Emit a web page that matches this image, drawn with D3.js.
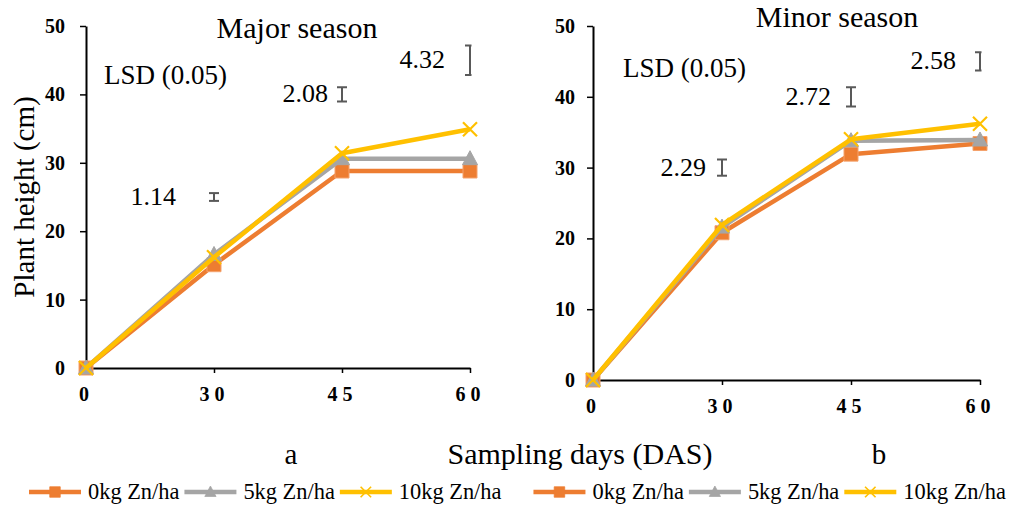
<!DOCTYPE html>
<html>
<head>
<meta charset="utf-8">
<script src="https://cdn.jsdelivr.net/npm/d3@7"></script>
<style>
  html, body { margin: 0; padding: 0; background: #fff; }
  svg { display: block; }
  text { font-family: "Liberation Serif", "Times New Roman", serif; }
</style>
</head>
<body>
<svg id="chart" width="1020" height="507"></svg>
<script>
// Sampling days (categories on the x axis)
const days = ["0", "30", "45", "60"];
const yTicks = [0, 10, 20, 30, 40, 50];

// Plant height (cm) – major season
const majorZn0 = [0, 15.1, 28.8, 28.8];
const majorZn5 = [0, 16.6, 30.6, 30.6];
const majorZn10 = [0, 16.2, 31.4, 34.9];

// Plant height (cm) – minor season
const minorZn0 = [0, 20.8, 31.9, 33.4];
const minorZn5 = [0, 21.6, 33.8, 33.9];
const minorZn10 = [0, 21.9, 34.0, 36.2];

// LSD (0.05) bars: the sampling day, the value they are centred on, and their length
const lsdDays = ["30", "45", "60"];
const majorLsd = [1.14, 2.08, 4.32];
const majorLsdAt = [25, 40, 45];
const minorLsd = [2.29, 2.72, 2.58];
const minorLsdAt = [30, 40, 45];

const seriesNames = ["0kg Zn/ha", "5kg Zn/ha", "10kg Zn/ha"];
const colors = ["#ED7D31", "#A5A5A5", "#FFC000"];
const symbols = ["square", "triangle", "cross"];

const svg = d3.select("#chart");

const panels = [
  {
    left: 86, top: 26, width: 384, height: 342,
    title: "Major season", titleX: 211, titleY: 12,
    lsdTextX: 18, lsdTextY: 58,
    labelGap: [38, 14, 25], tickPad: 15,
    series: [majorZn0, majorZn5, majorZn10],
    lsd: majorLsd, lsdAt: majorLsdAt,
    letter: "a", letterX: 205
  },
  {
    left: 593, top: 26, width: 387, height: 354,
    title: "Minor season", titleX: 244, titleY: 1,
    lsdTextX: 30, lsdTextY: 51,
    labelGap: [16, 20, 24], tickPad: 12,
    series: [minorZn0, minorZn5, minorZn10],
    lsd: minorLsd, lsdAt: minorLsdAt,
    letter: "b", letterX: 286
  }
];

function markerPath(kind) {
  if (kind === "square") return "M-7,-7H7V7H-7Z";
  if (kind === "triangle") return "M0,-8L7.5,6H-7.5Z";
  return "M-7,-7L7,7M-7,7L7,-7";
}

panels.forEach((p, pi) => {
  const g = svg.append("g").attr("transform", `translate(${p.left},${p.top})`);
  const x = d3.scalePoint().domain(days).range([0, p.width]);
  const y = d3.scaleLinear().domain([0, 50]).range([p.height, 0]);

  // y axis
  const yAxis = g.append("g")
    .call(d3.axisLeft(y).tickValues(yTicks).tickSize(6).tickSizeOuter(0).tickPadding(p.tickPad));
  yAxis.select(".domain").attr("stroke", "#000").attr("stroke-width", 2);
  yAxis.selectAll(".tick line").attr("stroke", "#000").attr("stroke-width", 1.5);
  yAxis.selectAll(".tick text")
    .attr("font-weight", "bold").attr("font-size", 20).attr("fill", "#000");

  // x axis
  const xAxis = g.append("g").attr("transform", `translate(0,${p.height})`)
    .call(d3.axisBottom(x).tickSize(5).tickSizeOuter(0).tickPadding(14));
  xAxis.select(".domain").attr("stroke", "#000").attr("stroke-width", 2);
  xAxis.selectAll(".tick line").attr("stroke", "#000").attr("stroke-width", 1.5);
  xAxis.selectAll(".tick text")
    .attr("font-weight", "bold").attr("font-size", 20).attr("fill", "#000")
    .attr("letter-spacing", "5px");

  // chart title
  g.append("text").attr("x", p.titleX).attr("y", p.titleY)
    .attr("text-anchor", "middle").attr("font-size", 30).attr("fill", "#000")
    .text(p.title);

  // LSD caption
  g.append("text").attr("x", p.lsdTextX).attr("y", p.lsdTextY)
    .attr("font-size", 27).attr("fill", "#000")
    .text("LSD (0.05)");

  // LSD bars, clipped to the plot area
  const clipId = "clip" + pi;
  g.append("clipPath").attr("id", clipId)
    .append("rect").attr("x", -2).attr("y", -30).attr("width", p.width + 3.5).attr("height", p.height + 40);
  const bars = g.append("g").attr("clip-path", `url(#${clipId})`);
  p.lsd.forEach((v, i) => {
    const cx = x(lsdDays[i]);
    const y1 = y(p.lsdAt[i] + v / 2), y2 = y(p.lsdAt[i] - v / 2);
    const bar = bars.append("g").attr("stroke", "#595959").attr("stroke-width", 2).attr("fill", "none");
    bar.append("line").attr("x1", cx).attr("x2", cx).attr("y1", y1).attr("y2", y2);
    bar.append("line").attr("x1", cx - 5).attr("x2", cx + 5).attr("y1", y1).attr("y2", y1);
    bar.append("line").attr("x1", cx - 5).attr("x2", cx + 5).attr("y1", y2).attr("y2", y2);
    g.append("text").attr("x", cx - p.labelGap[i]).attr("y", y(p.lsdAt[i]) + 8)
      .attr("text-anchor", "end").attr("font-size", 26).attr("fill", "#000")
      .text(v.toFixed(2));
  });

  // series lines with markers
  const line = d3.line().x((d, i) => x(days[i])).y(d => y(d));
  p.series.forEach((vals, si) => {
    const sg = g.append("g");
    sg.append("path").datum(vals).attr("d", line)
      .attr("fill", "none").attr("stroke", colors[si]).attr("stroke-width", 4.5)
      .attr("stroke-linejoin", "round");
    sg.selectAll("path.m").data(vals).join("path").attr("class", "m")
      .attr("transform", (d, i) => `translate(${x(days[i])},${y(d)})`)
      .attr("d", markerPath(symbols[si]))
      .attr("fill", symbols[si] === "cross" ? "none" : colors[si])
      .attr("stroke", symbols[si] === "square" ? "#F4A26C" : colors[si])
      .attr("stroke-width", symbols[si] === "cross" ? 2.2 : 1);
  });

  // panel letter
  svg.append("text").attr("x", p.left + p.letterX).attr("y", 464)
    .attr("text-anchor", "middle").attr("font-size", 29).attr("fill", "#000")
    .text(p.letter);
});

// y axis title
svg.append("text")
  .attr("transform", "translate(34,197) rotate(-90)")
  .attr("text-anchor", "middle").attr("font-size", 29).attr("fill", "#000")
  .text("Plant height (cm)");

// shared x axis title
svg.append("text").attr("x", 580).attr("y", 464)
  .attr("text-anchor", "middle").attr("font-size", 30).attr("fill", "#000")
  .text("Sampling days (DAS)");

// legends: one row per panel, laid out side by side
const legend = svg.append("g");
let lx = 29;
[0, 1].forEach(group => {
  seriesNames.forEach((name, si) => {
    const item = legend.append("g").attr("transform", `translate(${lx},492)`);
    item.append("line").attr("x1", 0).attr("x2", 52).attr("y1", 0).attr("y2", 0)
      .attr("stroke", colors[si]).attr("stroke-width", 4.5);
    item.append("path").attr("transform", "translate(26,0) scale(0.75)")
      .attr("d", markerPath(symbols[si]))
      .attr("fill", symbols[si] === "cross" ? "none" : colors[si])
      .attr("stroke", colors[si]).attr("stroke-width", symbols[si] === "cross" ? 2.2 : 1);
    const t = item.append("text").attr("x", 59).attr("y", 7)
      .attr("font-size", 22.4).attr("fill", "#000").text(name);
    lx += 59 + t.node().getComputedTextLength() + 5;
  });
  lx += 27;
});
</script>
</body>
</html>
